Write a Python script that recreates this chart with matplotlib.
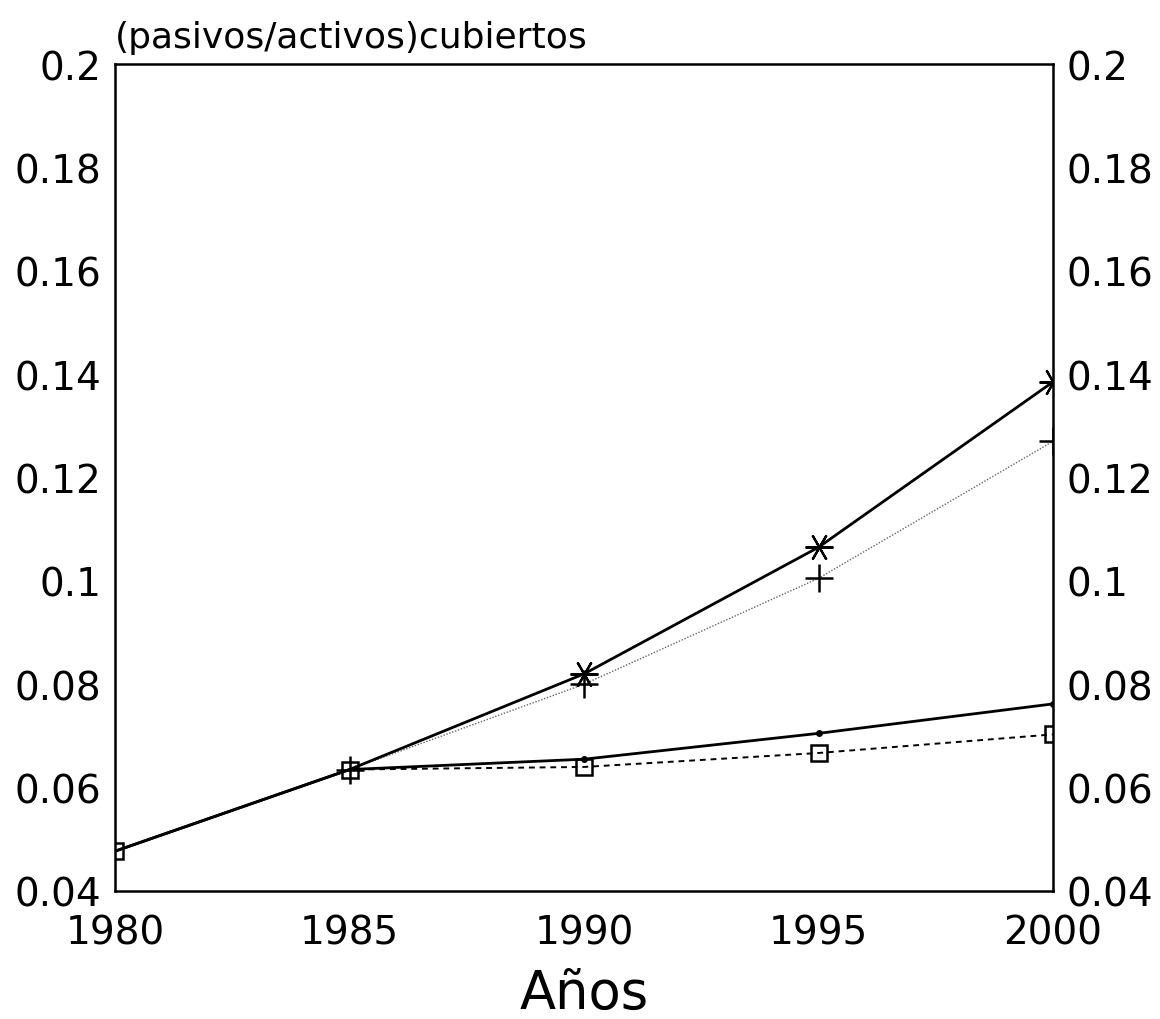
import matplotlib
matplotlib.use("Agg")
import matplotlib.pyplot as plt

years = [1980, 1985, 1990, 1995, 2000]
asterisk_series = [0.0477, 0.0635, 0.0820, 0.1065, 0.1385]
plus_series = [0.0477, 0.0635, 0.0800, 0.1005, 0.1270]
dot_series = [0.0477, 0.0635, 0.0655, 0.0705, 0.0762]
square_series = [0.0477, 0.0635, 0.0640, 0.0667, 0.0703]

y_ticks = [0.04, 0.06, 0.08, 0.1, 0.12, 0.14, 0.16, 0.18, 0.2]
y_tick_labels = ["0.04", "0.06", "0.08", "0.1", "0.12", "0.14", "0.16", "0.18", "0.2"]
x_ticks = [1980, 1985, 1990, 1995, 2000]
x_tick_labels = ["1980", "1985", "1990", "1995", "2000"]

plt.rcParams['font.family'] = ['DejaVu Sans']

fig = plt.figure(figsize=(11.6, 10.2), dpi=100)
ax = fig.add_axes([115/1160, 1-892/1020, (1053-115)/1160, (892-65)/1020])

asterisk = (6, 2, 90)
ax.plot(years, square_series, color='black', lw=1.4, ls=(0, (3, 2.5)),
        marker='s', markersize=12, markerfacecolor='none', markeredgewidth=1.8,
        markevery=[0, 1, 2, 3, 4], zorder=3)
ax.plot(years, dot_series, color='black', lw=2.0, ls='-',
        marker='o', markersize=4, markevery=[2, 3, 4], zorder=3)
ax.plot(years, plus_series, color='#666666', lw=1.0, ls=(0, (1, 1.2)),
        zorder=2)
ax.plot(years[1:], plus_series[1:], color='black', lw=0, ls='none',
        marker='+', markersize=20, markeredgewidth=1.8, zorder=4)
ax.plot(years, asterisk_series, color='black', lw=2.0, ls='-',
        marker=asterisk, markersize=20, markeredgewidth=1.6,
        markevery=[2, 3, 4], zorder=4)

ax.set_xlim(1980, 2000)
ax.set_ylim(0.04, 0.2)
ax.set_xticks(x_ticks)
ax.set_xticklabels(x_tick_labels)
ax.set_yticks(y_ticks)
ax.set_yticklabels(y_tick_labels)
ax.tick_params(axis='both', length=0, labelsize=28)
ax.tick_params(axis='y', pad=10, labelright=True, right=False)
ax.tick_params(axis='x', pad=16)
for s in ax.spines.values():
    s.set_linewidth(1.8)

fig.text(115/1160, 1-48/1020, "(pasivos/activos)cubiertos", fontsize=26,
         ha='left', va='baseline')
fig.text(584/1160, 1-994/1020, "Años", fontsize=38, ha='center', va='center')

fig.savefig("out.png", dpi=100, facecolor='white')
